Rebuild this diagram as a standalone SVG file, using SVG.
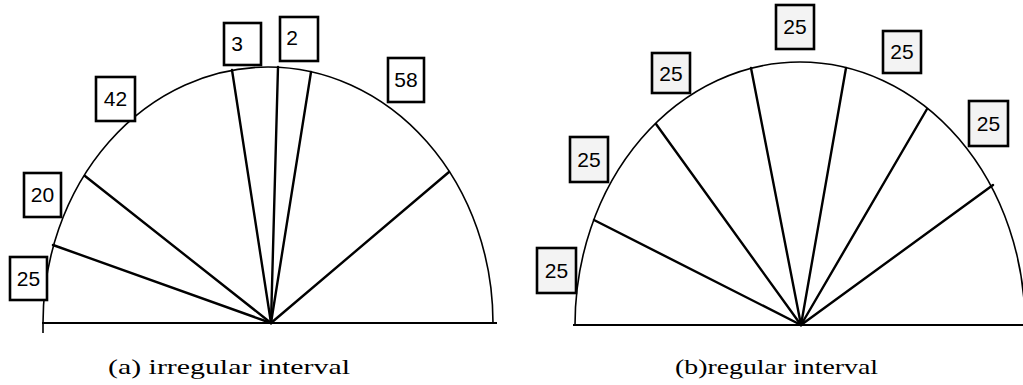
<svg xmlns="http://www.w3.org/2000/svg" width="1023" height="385" viewBox="0 0 1023 385">
<style>
.arc{fill:none;stroke:#000;stroke-width:1.6}
.base{fill:none;stroke:#000;stroke-width:2.2}
.ray{stroke:#000;stroke-width:2.4;stroke-linecap:round}
.box{fill:#fff;stroke:#000;stroke-width:2.6}
.boxg{fill:#f3f3f3;stroke:#000;stroke-width:2.6}
.num{font-family:"Liberation Sans",Arial,sans-serif;font-size:21px;text-anchor:middle;fill:#000}
.cap{font-family:"Liberation Serif","Times New Roman",serif;font-size:21px;fill:#000}
</style>
<rect width="1023" height="385" fill="#fff"/>
<g id="chart-a">
  <path class="arc" d="M 43 333 L 43 323 A 225 256 0 0 1 493 323"/>
  <line class="base" x1="42" y1="323" x2="497" y2="323"/>
  <g id="connectors-a">
    <line class="ray" x1="271" y1="323" x2="53" y2="245"/>
    <line class="ray" x1="271" y1="323" x2="85" y2="176"/>
    <line class="ray" x1="271" y1="323" x2="232" y2="70"/>
    <line class="ray" x1="271" y1="323" x2="278" y2="67"/>
    <line class="ray" x1="271" y1="323" x2="311" y2="72"/>
    <line class="ray" x1="271" y1="323" x2="449" y2="172"/>
  </g>
  <g id="a-25"><rect class="box" x="10" y="257" width="37" height="43"/><text class="num" x="28.5" y="286">25</text></g>
  <g id="a-20"><rect class="box" x="24" y="173" width="37" height="44"/><text class="num" x="42.5" y="202">20</text></g>
  <g id="a-42"><rect class="box" x="96" y="77" width="39" height="44"/><text class="num" x="115.5" y="106">42</text></g>
  <g id="a-3"><rect class="box" x="224" y="23" width="37" height="42"/><text class="num" x="237" y="51">3</text></g>
  <g id="a-2"><rect class="box" x="280" y="17" width="38" height="44"/><text class="num" x="292" y="45">2</text></g>
  <g id="a-58"><rect class="box" x="388" y="58" width="36" height="44"/><text class="num" x="406" y="87">58</text></g>
  <text class="cap" x="108" y="374" textLength="242" lengthAdjust="spacingAndGlyphs">(a) irregular interval</text>
</g>
<g id="chart-b">
  <path class="arc" d="M 575 325 A 225 263 0 0 1 1025 325"/>
  <line class="base" x1="573" y1="325" x2="1023" y2="325"/>
  <g id="connectors-b">
    <line class="ray" x1="801" y1="325" x2="594" y2="220"/>
    <line class="ray" x1="801" y1="325" x2="656" y2="124"/>
    <line class="ray" x1="801" y1="325" x2="751" y2="68"/>
    <line class="ray" x1="801" y1="325" x2="846" y2="68"/>
    <line class="ray" x1="801" y1="325" x2="927" y2="109"/>
    <line class="ray" x1="801" y1="325" x2="993" y2="185"/>
  </g>
  <g id="b-1"><rect class="boxg" x="537" y="248" width="39" height="45"/><text class="num" x="556.5" y="278">25</text></g>
  <g id="b-2"><rect class="boxg" x="570" y="137" width="38" height="45"/><text class="num" x="589" y="167">25</text></g>
  <g id="b-3"><rect class="boxg" x="652" y="53" width="38" height="40"/><text class="num" x="671" y="81">25</text></g>
  <g id="b-4"><rect class="boxg" x="776" y="5" width="38" height="44"/><text class="num" x="795" y="34">25</text></g>
  <g id="b-5"><rect class="boxg" x="883" y="31" width="38" height="42"/><text class="num" x="902" y="59">25</text></g>
  <g id="b-6"><rect class="boxg" x="969" y="101" width="39" height="45"/><text class="num" x="988.5" y="131">25</text></g>
  <text class="cap" x="675" y="374" textLength="203" lengthAdjust="spacingAndGlyphs">(b)regular interval</text>
</g>
</svg>
